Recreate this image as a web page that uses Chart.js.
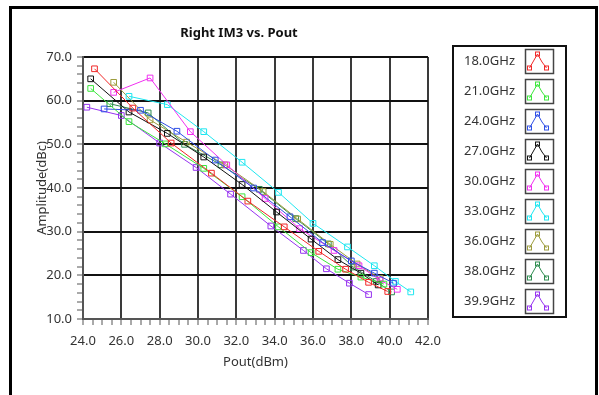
<!DOCTYPE html>
<html>
<head>
<meta charset="utf-8">
<script src="https://cdn.jsdelivr.net/npm/chart.js@4.4.0/dist/chart.umd.min.js"></script>
<style>
  body { margin: 0; background: #fff; }
  canvas { display: block; }
</style>
</head>
<body>
<canvas id="im3Chart" width="599" height="395"></canvas>
<script>
// Right IM3 vs. Pout, one trace per test frequency
const freqs = ['18.0GHz', '21.0GHz', '24.0GHz', '27.0GHz', '30.0GHz', '33.0GHz', '36.0GHz', '38.0GHz', '39.9GHz'];

const pout18 = [24.6, 26.6, 28.6, 30.7, 32.6, 34.5, 36.3, 37.7, 38.9, 39.9];
const im3_18 = [67.3, 58.3, 50.3, 43.4, 37.0, 31.1, 25.5, 21.4, 18.4, 16.3];

const pout21 = [24.4, 26.4, 28.3, 30.3, 32.3, 34.2, 35.9, 37.3, 38.5, 39.7];
const im3_21 = [62.8, 55.2, 50.1, 44.5, 38.0, 31.1, 25.2, 21.4, 19.6, 18.0];

const pout24 = [25.1, 27.0, 28.9, 30.9, 32.9, 34.8, 36.5, 38.0, 39.2, 40.2];
const im3_24 = [58.1, 57.8, 53.0, 46.4, 40.0, 33.4, 27.5, 23.3, 20.5, 18.2];

const pout27 = [24.4, 26.4, 28.4, 30.3, 32.3, 34.1, 35.9, 37.3, 38.5, 39.4];
const im3_27 = [65.0, 57.4, 52.5, 47.1, 40.8, 34.5, 28.3, 23.6, 20.5, 17.8];

const pout30 = [25.6, 27.5, 29.6, 31.5, 33.5, 35.3, 37.1, 38.4, 39.5, 40.4];
const im3_30 = [61.9, 65.2, 52.9, 45.3, 37.6, 30.7, 25.7, 22.2, 18.9, 16.8];

const pout33 = [26.4, 28.4, 30.3, 32.3, 34.2, 36.0, 37.8, 39.2, 40.3, 41.1];
const im3_33 = [61.0, 59.1, 52.9, 45.9, 39.0, 31.9, 26.5, 22.2, 18.6, 16.2];

const pout36 = [25.6, 27.5, 29.4, 31.4, 33.4, 35.2, 36.9, 38.3, 39.5];
const im3_36 = [64.2, 55.6, 50.5, 45.3, 39.2, 32.9, 27.1, 22.6, 19.3];

const pout38 = [25.4, 27.4, 29.3, 31.2, 33.2, 35.1, 36.8, 38.1, 39.3, 40.1];
const im3_38 = [59.3, 57.2, 50.0, 45.3, 39.7, 33.0, 27.2, 21.9, 18.6, 16.2];

const pout399 = [24.2, 26.0, 28.0, 29.9, 31.7, 33.8, 35.5, 36.7, 37.9, 38.9];
const im3_399 = [58.5, 56.6, 50.3, 44.7, 38.6, 31.3, 25.7, 21.5, 18.2, 15.6];

const poutSets = [pout18, pout21, pout24, pout27, pout30, pout33, pout36, pout38, pout399];
const im3Sets = [im3_18, im3_21, im3_24, im3_27, im3_30, im3_33, im3_36, im3_38, im3_399];
const colors = ['#f02828', '#3ce63c', '#2f4fe6', '#111111', '#f030f0', '#1ee6f0', '#9c9c3c', '#2e8c50', '#9632f0'];

const font = '"Noto Sans", sans-serif';

// frame, title and the boxed legend on the right
const decor = {
  id: 'decor',
  beforeDraw(chart) {
    const c = chart.ctx;
    c.save();
    c.strokeStyle = '#000';
    c.lineWidth = 3;
    c.beginPath();
    c.moveTo(10.5, 400);
    c.lineTo(10.5, 7.5);
    c.lineTo(596.5, 7.5);
    c.lineTo(596.5, 400);
    c.stroke();
    c.restore();
  },
  afterDraw(chart) {
    const c = chart.ctx;
    c.save();
    c.fillStyle = '#111';
    c.font = 'bold 13px ' + font;
    c.textAlign = 'center';
    c.textBaseline = 'middle';
    c.fillText('Right IM3 vs. Pout', 239, 33);

    c.strokeStyle = '#111';
    c.lineWidth = 2;
    c.strokeRect(453, 46, 113, 271);
    chart.data.datasets.forEach((ds, i) => {
      const top = 49 + i * 30;
      c.fillStyle = '#333';
      c.font = '13px ' + font;
      c.textAlign = 'right';
      c.fillText(ds.label, 515, top + 12);
      c.strokeStyle = '#444';
      c.lineWidth = 1.5;
      c.strokeRect(525.5, top + 0.5, 28, 24);
      // little trace icon
      const pts = [[529.5, top + 19], [537.5, top + 5], [542, top + 13], [546.5, top + 19]];
      c.strokeStyle = ds.borderColor;
      c.lineWidth = 1;
      c.beginPath();
      pts.forEach(([x, y], k) => (k ? c.lineTo(x, y) : c.moveTo(x, y)));
      c.stroke();
      [0, 1, 3].forEach(k => c.strokeRect(pts[k][0] - 2, pts[k][1] - 2, 4, 4));
    });
    c.restore();
  }
};

new Chart(document.getElementById('im3Chart'), {
  type: 'line',
  data: {
    datasets: freqs.map((f, i) => ({
      label: f,
      data: poutSets[i].map((x, k) => ({ x: x, y: im3Sets[i][k] })),
      borderColor: colors[i],
      backgroundColor: 'rgba(255,255,255,0)',
      borderWidth: 1,
      tension: 0,
      pointStyle: 'rect',
      pointRadius: 4,
      pointBorderWidth: 1,
      pointBorderColor: colors[i]
    }))
  },
  options: {
    responsive: false,
    animation: false,
    layout: { padding: { left: 0, right: 171, top: 57, bottom: 0 } },
    plugins: { legend: { display: false }, title: { display: false }, tooltip: { enabled: false } },
    scales: {
      x: {
        type: 'linear',
        min: 24,
        max: 42,
        afterFit: s => { s.height = 76; },
        ticks: {
          stepSize: 0.5,
          maxTicksLimit: 100,
          autoSkip: false,
          maxRotation: 0,
          padding: 8,
          color: '#333',
          font: { family: font, size: 13 },
          callback: v => (v % 2 === 0 ? v.toFixed(1) : '')
        },
        grid: {
          color: ctx => (ctx.tick && ctx.tick.value % 2 === 0 ? '#3a3a3a' : 'rgba(0,0,0,0)'),
          lineWidth: 2,
          tickColor: '#555',
          tickWidth: 1,
          tickLength: 6
        },
        border: { color: '#555', width: 2 },
        title: {
          display: true,
          text: 'Pout(dBm)',
          color: '#333',
          font: { family: font, size: 13 },
          padding: { top: 0, bottom: 25 }
        }
      },
      y: {
        min: 10,
        max: 70,
        afterFit: s => { s.width = 83; },
        ticks: {
          stepSize: 2,
          maxTicksLimit: 100,
          autoSkip: false,
          padding: 5,
          color: '#333',
          font: { family: font, size: 13 },
          callback: v => (v % 10 === 0 ? v.toFixed(1) : '')
        },
        grid: {
          color: ctx => (ctx.tick && ctx.tick.value % 10 === 0 ? '#111' : 'rgba(0,0,0,0)'),
          lineWidth: 2,
          tickColor: '#555',
          tickWidth: 1,
          tickLength: 6
        },
        border: { color: '#555', width: 2 },
        title: {
          display: true,
          text: 'Amplitude(dBc)',
          color: '#333',
          font: { family: font, size: 13 },
          padding: { top: 34, bottom: 0 }
        }
      }
    }
  },
  plugins: [decor]
});
</script>
</body>
</html>
